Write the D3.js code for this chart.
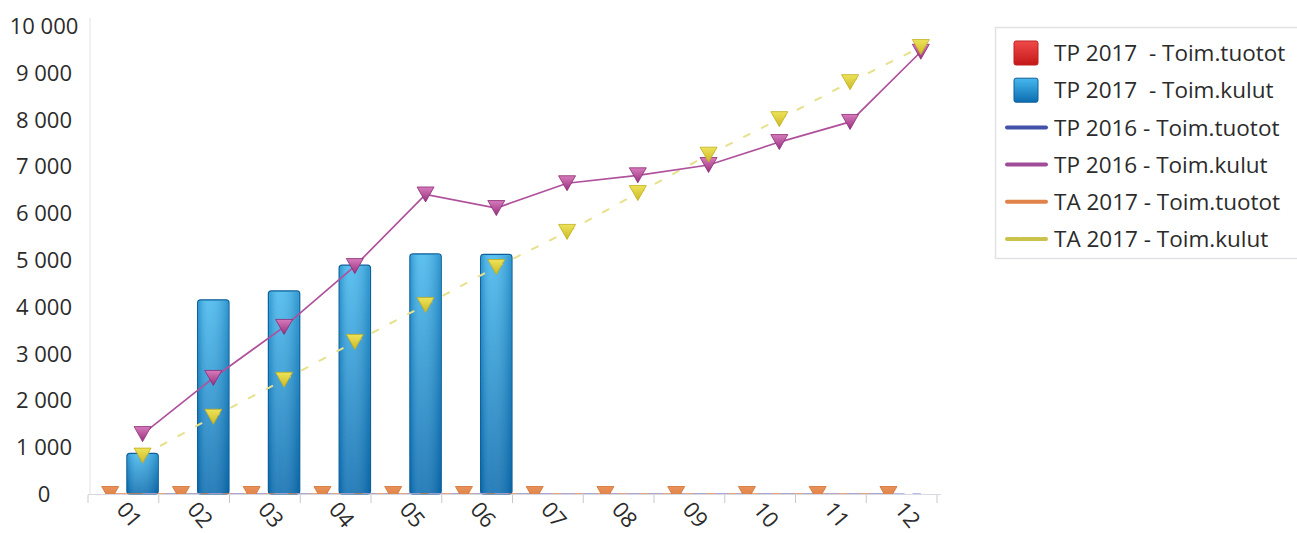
<!DOCTYPE html>
<html><head><meta charset="utf-8">
<script src="https://cdn.jsdelivr.net/npm/d3@7"></script>
<style>
html,body{margin:0;padding:0;background:#fff;}
svg text{font-family:"Open Sans","Noto Sans",sans-serif;fill:#2b2b2b;white-space:pre;}
</style></head>
<body><svg id="chart" width="1297" height="533"></svg>
<script>
const months = ["01","02","03","04","05","06","07","08","09","10","11","12"];
const yTicks = [0,1000,2000,3000,4000,5000,6000,7000,8000,9000,10000];
const tp2017Tuotot = [0,0,0,0,0,0,null,null,null,null,null,null];
const tp2017Kulut = [870,4150,4340,4890,5130,5120,null,null,null,null,null,null];
const tp2016Tuotot = [0,0,0,0,0,0,0,0,0,0,0,0];
const tp2016Kulut = [1280,2480,3570,4870,6400,6110,6640,6810,7030,7520,7950,9450];
const ta2017Tuotot = [0,0,0,0,0,0,0,0,0,0,0,0];
const ta2017Kulut = [820,1650,2440,3250,4040,4850,5600,6430,7250,8010,8800,9550];
const legendLabels = ["TP 2017  - Toim.tuotot","TP 2017  - Toim.kulut","TP 2016 - Toim.tuotot","TP 2016 - Toim.kulut","TA 2017 - Toim.tuotot","TA 2017 - Toim.kulut"];

(function(){
const svg = d3.select("#chart");
const defs = svg.append("defs");
function grad(id, c1, c2){
  const g = defs.append("linearGradient").attr("id",id).attr("x1",0).attr("y1",0).attr("x2",0).attr("y2",1);
  g.append("stop").attr("offset","0%").attr("stop-color",c1);
  g.append("stop").attr("offset","100%").attr("stop-color",c2);
}
grad("gBlue","#46b9ee","#0c6db0");
grad("gRed","#f04a4a","#c41818");
grad("gPink","#d77bbb","#98307f");
grad("gYellow","#ede35a","#cdb924");
grad("gOrange","#e8925a","#d9783c");
const hg = defs.append("linearGradient").attr("id","gBlueH").attr("x1",0).attr("y1",0).attr("x2",1).attr("y2",0);
[["0%","#0d66a6",0.35],["35%","#ffffff",0.12],["100%","#0a5a95",0.35]].forEach(s=>hg.append("stop").attr("offset",s[0]).attr("stop-color",s[1]).attr("stop-opacity",s[2]));

const pLeft = 88, pRight = 937, pTop = 26, pBottom = 494;
const x = d3.scaleBand().domain(months).range([pLeft, pRight]);
const slot = d3.scaleBand().domain(["tuotot","kulut"]).range([6, x.bandwidth()]);
const y = d3.scaleLinear().domain([0,10000]).range([pBottom, pTop]);

defs.append("clipPath").attr("id","plotClip").append("rect")
  .attr("x", pLeft).attr("y", 0).attr("width", pRight-pLeft+20).attr("height", pBottom);

// y axis labels (centered)
svg.append("g").selectAll("text").data(yTicks).join("text")
  .attr("x", 44).attr("y", d=>y(d)).attr("dy","0.36em")
  .attr("text-anchor","middle").attr("font-size",22)
  .text(d=>d3.format(",")(d).replace(/,/g," "));

// axis lines
svg.append("line").attr("x1",pLeft+2).attr("x2",pLeft+2).attr("y1",pTop-8).attr("y2",pBottom)
  .attr("stroke","#ececec").attr("stroke-width",1.5);
svg.append("line").attr("x1",pLeft).attr("x2",pRight+4).attr("y1",pBottom+0.5).attr("y2",pBottom+0.5)
  .attr("stroke","#d8d8e0").attr("stroke-width",1);
svg.append("g").selectAll("line").data(months.concat(["end"])).join("line")
  .attr("x1",(d,i)=> i<12 ? x(d) : pRight).attr("x2",(d,i)=> i<12 ? x(d) : pRight)
  .attr("y1",pBottom+1).attr("y2",pBottom+9).attr("stroke","#c8c8c8").attr("stroke-width",1);

// x labels
svg.append("g").selectAll("text").data(months).join("text")
  .attr("transform", d=>`translate(${x(d)+x.bandwidth()/2-8},${pBottom+16}) rotate(50)`)
  .attr("font-size",22).text(d=>d);

const cx = (i, s) => x(months[i]) + slot(s) + slot.bandwidth()/2;

// bars
const plot = svg.append("g");
const barsK = months.map((m,i)=>({i, v:tp2017Kulut[i]})).filter(d=>d.v!=null);
plot.selectAll("rect.k").data(barsK).join("rect").attr("class","k")
  .attr("x", d=>x(months[d.i])+slot("kulut")+0.5).attr("width", slot.bandwidth()-1)
  .attr("y", d=>y(d.v)).attr("height", d=>y(0)-y(d.v))
  .attr("rx",3).attr("fill","url(#gBlue)").attr("stroke","#0e5e98").attr("stroke-width",1.2);
plot.selectAll("rect.kh").data(barsK).join("rect").attr("class","kh")
  .attr("x", d=>x(months[d.i])+slot("kulut")+1.5).attr("width", slot.bandwidth()-3)
  .attr("y", d=>y(d.v)+1).attr("height", d=>y(0)-y(d.v)-2)
  .attr("rx",2).attr("fill","url(#gBlueH)");
const barsT = months.map((m,i)=>({i, v:tp2017Tuotot[i]})).filter(d=>d.v!=null);
plot.selectAll("rect.t").data(barsT).join("rect").attr("class","t")
  .attr("x", d=>x(months[d.i])+slot("tuotot")+0.5).attr("width", slot.bandwidth()-1)
  .attr("y", d=>y(d.v)).attr("height", d=>y(0)-y(d.v)).attr("fill","url(#gRed)");

// lines
function line(vals, s){
  return d3.line().defined(d=>d!=null).x((d,i)=>cx(i,s)).y(d=>y(d))(vals);
}
const lines = svg.append("g").attr("clip-path","url(#plotClip)");
lines.append("path").attr("d", line(ta2017Tuotot,"tuotot")).attr("fill","none")
  .attr("stroke","#e3874d").attr("stroke-width",1.5);
lines.append("path").attr("d", line(tp2016Tuotot,"kulut")).attr("fill","none")
  .attr("stroke","#9aa6ea").attr("stroke-width",1.5).attr("stroke-dasharray","14,8");
lines.append("path").attr("d", line(ta2017Kulut,"kulut")).attr("fill","none")
  .attr("stroke","#e7e08c").attr("stroke-width",2).attr("stroke-dasharray","8,12");
lines.append("path").attr("d", line(tp2016Kulut,"kulut")).attr("fill","none")
  .attr("stroke","#b0519c").attr("stroke-width",1.7);

// markers
const tri = "M-8.5,-7.5L8.5,-7.5L0,7.5Z";
function markers(vals, s, fill, stroke){
  lines.append("g").selectAll("path").data(vals.map((v,i)=>({v,i})).filter(d=>d.v!=null)).join("path")
    .attr("d", tri).attr("transform", d=>`translate(${cx(d.i,s)},${y(d.v)})`)
    .attr("fill", fill).attr("stroke", stroke).attr("stroke-width",0.8);
}
markers(ta2017Tuotot, "tuotot", "url(#gOrange)", "#d07030");
markers(tp2016Kulut, "kulut", "url(#gPink)", "#8a2a74");
markers(ta2017Kulut, "kulut", "url(#gYellow)", "#c0ad1c");

// legend
const lg = svg.append("g");
lg.append("rect").attr("x",995.5).attr("y",27.5).attr("width",320).attr("height",231)
  .attr("fill","#fff").attr("stroke","#e2e2e6").attr("stroke-width",1.5);
const rowY = i => 53 + i*37.2;
lg.selectAll("text").data(legendLabels).join("text")
  .attr("x",1054).attr("y",(d,i)=>rowY(i)).attr("dy","0.36em").attr("font-size",22.5).text(d=>d);
lg.append("rect").attr("x",1014).attr("y",rowY(0)-12).attr("width",24).attr("height",24).attr("rx",2)
  .attr("fill","url(#gRed)").attr("stroke","#c02020");
lg.append("rect").attr("x",1014).attr("y",rowY(1)-12).attr("width",24).attr("height",24).attr("rx",2)
  .attr("fill","url(#gBlue)").attr("stroke","#0e5e98");
const lineStyles = [["#4451a8",null],["#a04c98",null],["#e0824a",null],["#cbc24a","5,2"]];
lineStyles.forEach((s,k)=>{
  lg.append("line").attr("x1",1007).attr("x2",1046).attr("y1",rowY(k+2)).attr("y2",rowY(k+2))
    .attr("stroke",s[0]).attr("stroke-width",4).attr("stroke-linecap","round")
    .attr("stroke-dasharray", s[1]);
});
})();
</script></body></html>
